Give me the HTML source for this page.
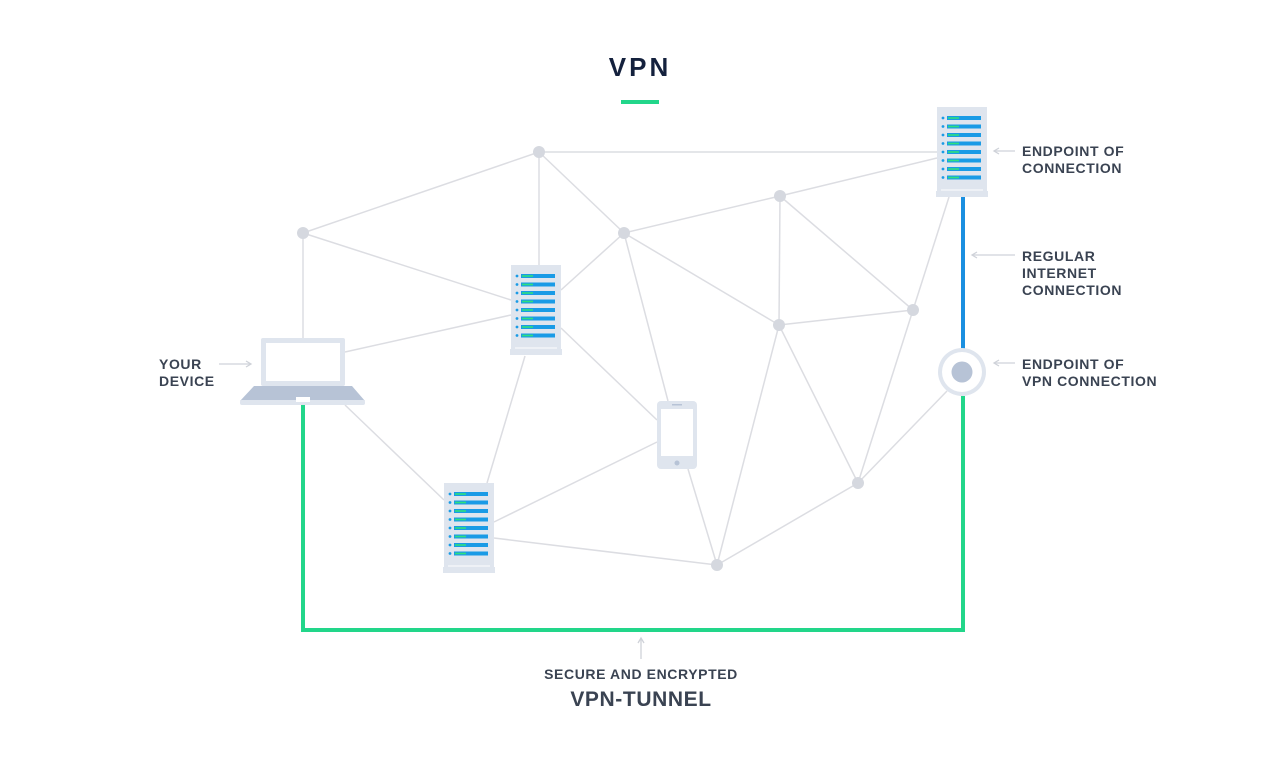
<!DOCTYPE html>
<html><head><meta charset="utf-8"><style>
html,body{margin:0;padding:0;background:#fff}
svg{display:block}
text{font-family:"Liberation Sans",sans-serif;fill:#3a4352;font-weight:bold}
</style></head><body>
<svg width="1280" height="770" viewBox="0 0 1280 770" xmlns="http://www.w3.org/2000/svg">
<defs>
<g id="srv">
<rect x="0" y="0" width="50" height="84" fill="#dfe5ee"/>
<rect x="-1" y="84" width="52" height="6" fill="#dfe5ee"/>
<rect x="4" y="82" width="42" height="2" fill="#eef1f6"/>
<g fill="#1a9be6">
<circle cx="6" cy="11" r="1.4"/><rect x="10" y="9" width="34" height="4"/>
<circle cx="6" cy="19.5" r="1.4"/><rect x="10" y="17.5" width="34" height="4"/>
<circle cx="6" cy="28" r="1.4"/><rect x="10" y="26" width="34" height="4"/>
<circle cx="6" cy="36.5" r="1.4"/><rect x="10" y="34.5" width="34" height="4"/>
<circle cx="6" cy="45" r="1.4"/><rect x="10" y="43" width="34" height="4"/>
<circle cx="6" cy="53.5" r="1.4"/><rect x="10" y="51.5" width="34" height="4"/>
<circle cx="6" cy="62" r="1.4"/><rect x="10" y="60" width="34" height="4"/>
<circle cx="6" cy="70.5" r="1.4"/><rect x="10" y="68.5" width="34" height="4"/>
</g>
<g fill="#2ee07f">
<rect x="11" y="10.2" width="11" height="1.6"/><rect x="11" y="18.7" width="11" height="1.6"/>
<rect x="11" y="27.2" width="11" height="1.6"/><rect x="11" y="35.7" width="11" height="1.6"/>
<rect x="11" y="44.2" width="11" height="1.6"/><rect x="11" y="52.7" width="11" height="1.6"/>
<rect x="11" y="61.2" width="11" height="1.6"/><rect x="11" y="69.7" width="11" height="1.6"/>
</g>
</g>
</defs>

<text x="640" y="76" text-anchor="middle" font-size="26" style="fill:#14213d;letter-spacing:3px">VPN</text>
<rect x="621" y="100" width="38" height="4" fill="#22d68a"/>

<g stroke="#dcdde2" stroke-width="1.5" fill="none">
<line x1="539" y1="152" x2="303" y2="233"/>
<line x1="539" y1="152" x2="937" y2="152"/>
<line x1="539" y1="152" x2="539" y2="265"/>
<line x1="539" y1="152" x2="624" y2="233"/>
<line x1="303" y1="233" x2="303" y2="338"/>
<line x1="303" y1="233" x2="511" y2="300"/>
<line x1="345" y1="352" x2="511" y2="315"/>
<line x1="624" y1="233" x2="561" y2="290"/>
<line x1="624" y1="233" x2="780" y2="196"/>
<line x1="624" y1="233" x2="779" y2="325"/>
<line x1="624" y1="233" x2="668" y2="401"/>
<line x1="780" y1="196" x2="937" y2="158"/>
<line x1="780" y1="196" x2="779" y2="325"/>
<line x1="780" y1="196" x2="913" y2="310"/>
<line x1="913" y1="310" x2="779" y2="325"/>
<line x1="913" y1="310" x2="949" y2="197"/>
<line x1="561" y1="328" x2="657" y2="420"/>
<line x1="525" y1="356" x2="487" y2="483"/>
<line x1="657" y1="442" x2="494" y2="522"/>
<line x1="688" y1="469" x2="717" y2="565"/>
<line x1="494" y1="538" x2="717" y2="565"/>
<line x1="779" y1="325" x2="717" y2="565"/>
<line x1="779" y1="325" x2="858" y2="483"/>
<line x1="913" y1="310" x2="858" y2="483"/>
<line x1="858" y1="483" x2="947" y2="391"/>
<line x1="717" y1="565" x2="858" y2="483"/>
<line x1="345" y1="405" x2="444" y2="500"/>
</g>
<g fill="#d5d8df">
<circle cx="539" cy="152" r="6"/><circle cx="303" cy="233" r="6"/>
<circle cx="624" cy="233" r="6"/><circle cx="780" cy="196" r="6"/>
<circle cx="913" cy="310" r="6"/><circle cx="779" cy="325" r="6"/>
<circle cx="858" cy="483" r="6"/><circle cx="717" cy="565" r="6"/>
</g>

<polyline points="303,405 303,630 963,630 963,396" fill="none" stroke="#22d68a" stroke-width="4"/>
<line x1="963" y1="197" x2="963" y2="349" stroke="#1a8fe0" stroke-width="4"/>

<use href="#srv" x="937" y="107"/>
<use href="#srv" x="511" y="265"/>
<use href="#srv" x="444" y="483"/>

<rect x="261" y="338" width="84" height="48" rx="2" fill="#dfe5ee"/>
<rect x="266" y="343" width="74" height="38" fill="#fff"/>
<polygon points="254,386 352,386 365,401 240,401" fill="#b7c3d6"/>
<rect x="240" y="400" width="125" height="5" rx="2" fill="#dfe5ee"/>
<rect x="296" y="397" width="14" height="5" fill="#fff"/>

<rect x="657" y="401" width="40" height="68" rx="4" fill="#dfe5ee"/>
<rect x="661" y="409" width="32" height="47" fill="#fff"/>
<rect x="672" y="404" width="10" height="1.5" fill="#b7c3d6"/>
<circle cx="677" cy="463" r="2.5" fill="#b7c3d6"/>

<circle cx="962" cy="372" r="24" fill="#dfe5ee"/>
<circle cx="962" cy="372" r="20" fill="#fff"/>
<circle cx="962" cy="372" r="10.5" fill="#b7c3d6"/>

<g stroke="#cfd2d9" stroke-width="1.3" fill="none">
<line x1="219" y1="364" x2="251" y2="364"/><polyline points="246,361 251,364 246,367"/>
<line x1="1015" y1="151" x2="994" y2="151"/><polyline points="999,148 994,151 999,154"/>
<line x1="1015" y1="255" x2="972" y2="255"/><polyline points="977,252 972,255 977,258"/>
<line x1="1015" y1="363" x2="994" y2="363"/><polyline points="999,360 994,363 999,366"/>
<line x1="641" y1="659" x2="641" y2="638"/><polyline points="638,643 641,638 644,643"/>
</g>

<g font-size="14" style="letter-spacing:0.6px">
<text x="159" y="369">YOUR</text><text x="159" y="386">DEVICE</text>
<text x="1022" y="156">ENDPOINT OF</text><text x="1022" y="173">CONNECTION</text>
<text x="1022" y="261">REGULAR</text><text x="1022" y="278">INTERNET</text><text x="1022" y="295">CONNECTION</text>
<text x="1022" y="369">ENDPOINT OF</text><text x="1022" y="386">VPN CONNECTION</text>
<text x="641" y="679" text-anchor="middle">SECURE AND ENCRYPTED</text>
</g>
<text x="641" y="706" text-anchor="middle" font-size="21" style="letter-spacing:0.6px">VPN-TUNNEL</text>
</svg>
</body></html>
